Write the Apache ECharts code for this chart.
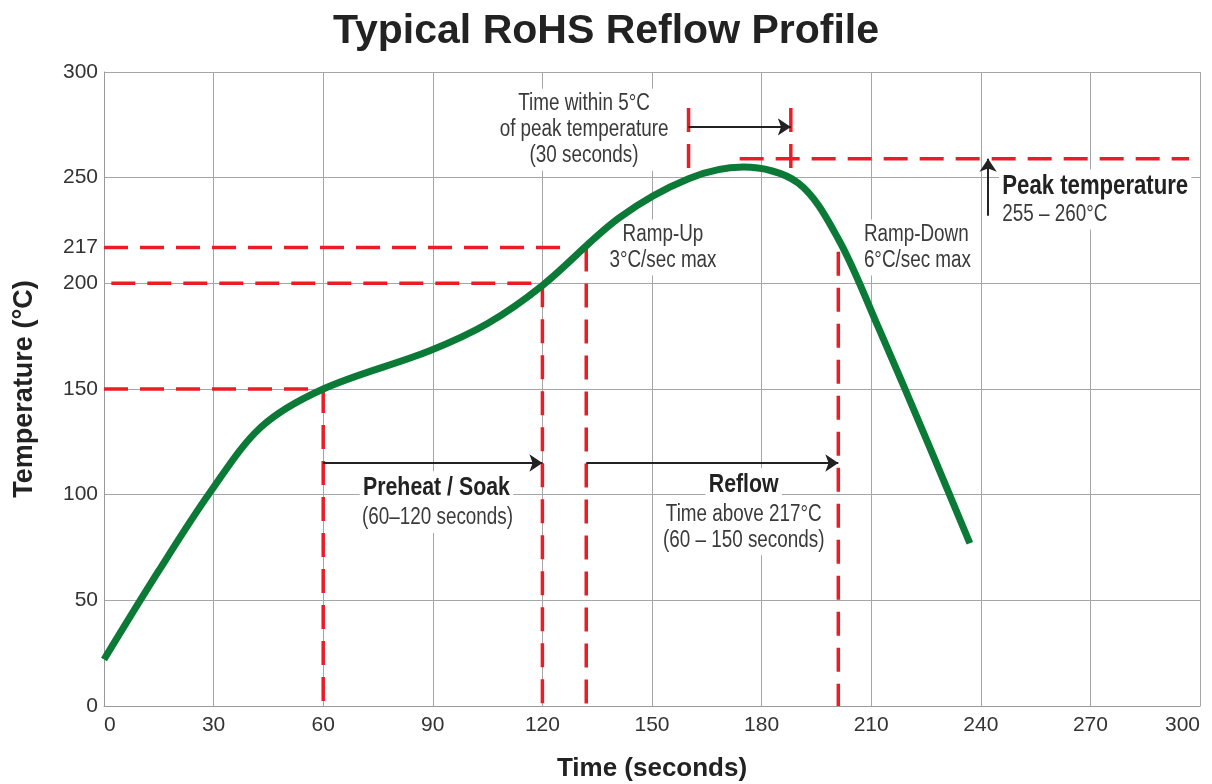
<!DOCTYPE html>
<html>
<head>
<meta charset="utf-8">
<title>Typical RoHS Reflow Profile</title>
<script src="https://cdn.jsdelivr.net/npm/echarts@6.0.0/dist/echarts.min.js"></script>
<style>
html, body { margin: 0; padding: 0; background: #fff; }
#reflow-chart { width: 1212px; height: 784px; }
</style>
</head>
<body>
<div id="reflow-chart"></div>
<script>
// temperature axis labels (217 is the liquidus line, not a grid line)
var tempLabels = [0, 50, 100, 150, 200, 217, 250, 300];

// profile: seconds / degrees C
var profileTime = [0, 15, 29, 43, 60, 89, 105, 120, 141, 160, 175, 190, 201, 212, 226, 237];
var profileTemp = [22, 64, 101, 132, 150, 168, 181, 199, 231, 249.5, 255, 247.5, 221, 179, 122.5, 77];

// red dashed guide segments [[t1, T1], [t2, T2]]
var guideLines = [
    [[0, 150], [60, 150]],
    [[2, 200], [120, 200]],
    [[0, 217], [127, 217]],
    [[174, 259], [297, 259]],
    [[60, 150], [60, 0]],
    [[120, 200], [120, 0]],
    [[132, 217], [132, 0]],
    [[201, 215], [201, 0]],
    [[160, 283], [160, 253]],
    [[188, 283], [188, 251]]
];

// black arrows [t1, T1, t2, T2]
var arrows = [
    [160, 274, 188, 274],
    [60, 115, 120, 115],
    [132, 115, 201, 115],
    [242, 232, 242, 259]
];

var noteTexts = {
    within: 'Time within 5°C\nof peak temperature\n(30 seconds)',
    rampUp: 'Ramp-Up\n3°C/sec max',
    rampDown: 'Ramp-Down\n6°C/sec max',
    peak: 'Peak temperature',
    peakRange: '255 – 260°C',
    preheat: 'Preheat / Soak',
    preheatRange: '(60–120 seconds)',
    reflow: 'Reflow',
    reflowRange: 'Time above 217°C\n(60 – 150 seconds)'
};

var chartDom = document.getElementById('reflow-chart');
var statsChart = echarts.init(chartDom, null, { renderer: 'canvas' });
var option;

var FONT = '"Liberation Sans", Arial, Helvetica, sans-serif';

function buildSeries() {
    var curve = profileTime.map(function (t, i) {
        return [t, profileTemp[i]];
    });
    var series = [{
        name: 'Profile',
        type: 'line',
        data: curve,
        smooth: 0.33,
        symbol: 'none',
        z: 5,
        lineStyle: { color: '#0b7a36', width: 7 },
        markLine: {
            silent: true,
            symbol: ['none', 'arrow'],
            symbolSize: 13,
            label: { show: false },
            lineStyle: { color: '#222', width: 2, type: 'solid' },
            data: arrows.map(function (a) {
                return [{ coord: [a[0], a[1]] }, { coord: [a[2], a[3]] }];
            })
        }
    }];
    guideLines.forEach(function (seg) {
        series.push({
            type: 'line',
            data: seg,
            symbol: 'none',
            silent: true,
            z: 4,
            lineStyle: { color: '#ec1c24', width: 3.5, type: [24, 12] }
        });
    });
    return series;
}

option = {
    backgroundColor: '#fff',
    animation: false,
    title: {
        text: 'Typical RoHS Reflow Profile',
        left: 'center',
        top: 6,
        textStyle: { fontFamily: FONT, fontSize: 41, fontWeight: 'bold', color: '#222' }
    },
    grid: { left: 104, right: 12, top: 72, bottom: 78, outerBoundsMode: 'none' },
    xAxis: {
        type: 'value',
        min: 0,
        max: 300,
        interval: 30,
        name: 'Time (seconds)',
        nameLocation: 'middle',
        nameGap: 50,
        nameTextStyle: { fontFamily: FONT, fontSize: 26, fontWeight: 'bold', color: '#222' },
        axisLine: { show: true, lineStyle: { color: '#999', width: 1 } },
        axisTick: { show: false },
        axisLabel: { fontFamily: FONT, fontSize: 21, color: '#333', margin: 9, alignMinLabel: 'left', alignMaxLabel: 'right' },
        splitLine: { show: true, lineStyle: { color: '#a6a6a6', width: 1 } }
    },
    yAxis: {
        type: 'value',
        min: 0,
        max: 300,
        interval: 50,
        name: 'Temperature (°C)',
        nameLocation: 'middle',
        nameGap: 66,
        nameTextStyle: { fontFamily: FONT, fontSize: 27, fontWeight: 'bold', color: '#222' },
        axisLine: { show: true, lineStyle: { color: '#999', width: 1 } },
        axisTick: { show: false },
        axisLabel: { fontFamily: FONT, fontSize: 21, color: '#333', margin: 6, customValues: tempLabels },
        splitLine: { show: true, lineStyle: { color: '#a6a6a6', width: 1 } }
    },
    series: buildSeries()
};

option && statsChart.setOption(option);

function note(key, t, temp, align, size, bold) {
    var p = statsChart.convertToPixel({ gridIndex: 0 }, [t, temp]);
    return {
        type: 'text',
        x: p[0],
        y: p[1],
        scaleX: 0.82,
        z: 1,
        style: {
            text: noteTexts[key],
            fontFamily: FONT,
            fontSize: size,
            fontWeight: bold ? 'bold' : 'normal',
            fill: bold ? '#222' : '#3a3a3a',
            align: align,
            verticalAlign: 'middle',
            lineHeight: size + 3,
            backgroundColor: '#fff',
            padding: [2, 4]
        }
    };
}

statsChart.setOption({
    graphic: [
        note('within', 131.4, 272.7, 'center', 23, false),
        note('rampUp', 153, 217, 'center', 23, false),
        note('rampDown', 207.1, 217, 'left', 23, false),
        note('peak', 245, 245.8, 'left', 27, true),
        note('peakRange', 245, 232.6, 'left', 23, false),
        note('preheat', 91, 103.3, 'center', 26, true),
        note('preheatRange', 91.3, 89, 'center', 23, false),
        note('reflow', 175.1, 104.7, 'center', 26, true),
        note('reflowRange', 175.1, 84.6, 'center', 23, false)
    ]
});
</script>
</body>
</html>
